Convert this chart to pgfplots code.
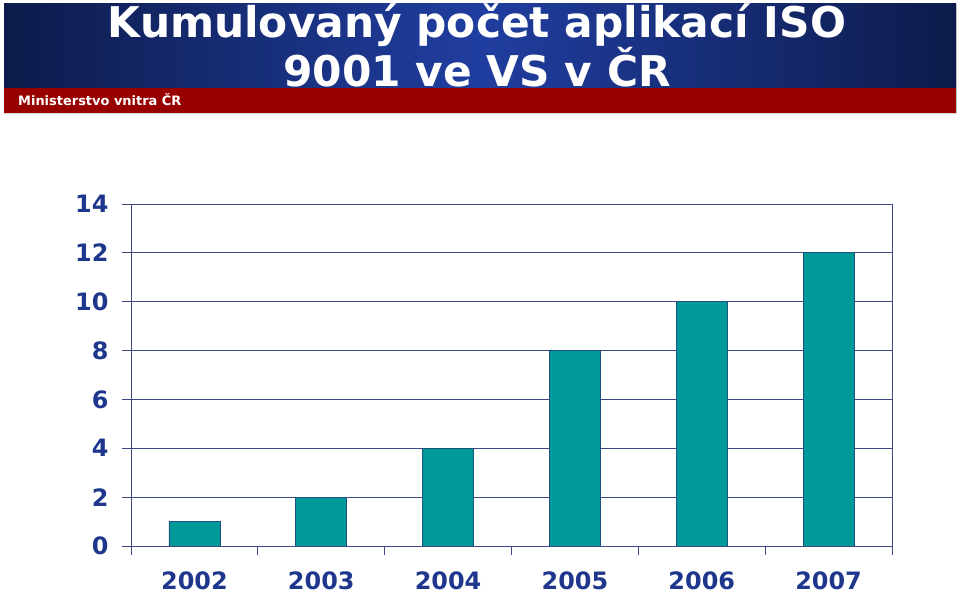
\documentclass[border=0pt]{standalone}
\usepackage{pgfplots}
\pgfplotsset{compat=1.18}
\usepackage{fontspec}
\setmainfont{DejaVu Sans}

\definecolor{hdrdark}{RGB}{13,27,75}
\definecolor{hdrmid}{RGB}{32,62,160}
\definecolor{hdrred}{RGB}{152,0,0}
\definecolor{txtblue}{RGB}{30,55,140}
\definecolor{gridblue}{RGB}{62,72,130}
\definecolor{barteal}{RGB}{0,153,153}
\definecolor{baredge}{RGB}{30,80,130}

\pgfplotstableread{
x val
0 1
1 2
2 4
3 8
4 10
5 12
}\isodata

\begin{document}
\begin{tikzpicture}[x=1bp,y=1bp]
  % page
  \fill[white] (0,0) rectangle (960,595);
  % header band with horizontal gradient
  \shade[left color=hdrdark,right color=hdrmid] (4,595-88) rectangle (480,591);
  \shade[left color=hdrmid,right color=hdrdark] (480,595-88) rectangle (956,591);
  \fill[hdrred] (4,595-113) rectangle (956,595-88);
  \draw[black!25,line width=1bp] (956.5,595-113) -- (956.5,591);
  \draw[black!15,line width=1bp] (4,595-113.5) -- (956.5,595-113.5);
  % title
  \begin{scope}
    \clip (4,595-88) rectangle (956,595);
    \node[text=white,font=\bfseries\fontsize{42.5}{42.5}\selectfont,anchor=base] at (477,595-38) {Kumulovaný počet aplikací ISO};
    \node[text=white,font=\bfseries\fontsize{42.5}{42.5}\selectfont,anchor=base] at (477,595-87) {9001 ve VS v ČR};
  \end{scope}
  \node[text=white,font=\bfseries\fontsize{13}{13}\selectfont,anchor=base west,inner sep=0] at (18,595-106) {Ministerstvo vnitra ČR};

  % lower left corner of the plot area
  \coordinate (plotSW) at (131,49);

  \begin{axis}[
    at={(plotSW)}, anchor=south west,
    scale only axis, width=761bp, height=342bp,
    xmin=-0.5, xmax=5.5, ymin=0, ymax=14,
    ytick={0,2,...,14},
    xtick={-0.5,0.5,...,5.5},
    xticklabels={},
    extra x ticks={0,1,2,3,4,5},
    extra x tick labels={2002,2003,2004,2005,2006,2007},
    extra x tick style={major tick length=0pt, grid=none},
    ymajorgrids, major grid style={gridblue, line width=0.9bp},
    axis line style={gridblue, line width=0.9bp},
    tick style={gridblue, line width=0.9bp},
    tick align=outside, major tick length=9bp,
    xtick pos=bottom, ytick pos=left,
    ticklabel style={text=txtblue, font=\bfseries\fontsize{24}{24}\selectfont},
    /pgf/number format/assume math mode=true,
    yticklabel style={xshift=-10bp},
    xticklabel style={inner sep=1bp, yshift=-25bp},
    ybar, bar width=51bp,
  ]
    \addplot[fill=barteal, draw=baredge, line width=0.8bp] table[x=x,y=val] {\isodata};
  \end{axis}

  % fixed page size
  \pgfresetboundingbox
  \path[use as bounding box] (0,0) rectangle (960,595);
\end{tikzpicture}
\end{document}
